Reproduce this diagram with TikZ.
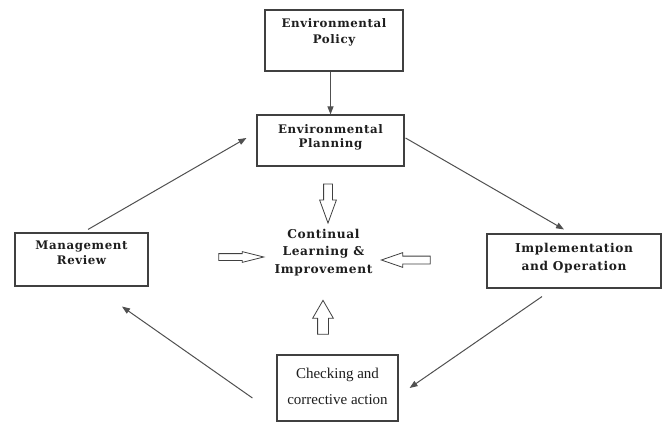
\documentclass[tikz,border=0pt]{standalone}
\usepackage{fontspec}
\usetikzlibrary{arrows.meta,shapes.arrows,calc}
\newfontfamily\lblfont[LetterSpace=5.0]{DejaVu Serif}
\newfontfamily\chkfont{Liberation Serif}
\definecolor{boxline}{HTML}{404040}
\definecolor{linkline}{HTML}{505050}
\definecolor{inktext}{HTML}{1E1E1E}
\tikzset{
  stagebox/.style={draw=boxline, line width=1.1pt, fill=white, inner sep=0pt},
  boldlbl/.style={align=center, text=inktext, inner sep=0pt},
  link/.style={draw=linkline, line width=1pt, -{Triangle[length=8pt,width=6pt]}},
  hollow/.style={single arrow, draw=black!75, line width=0.8pt, fill=white, inner sep=0pt, minimum width=0pt}
}
\begin{document}
\begin{tikzpicture}[x=1pt, y=-1pt]
\useasboundingbox (0,0) rectangle (668,425);

% the five stages of the cycle
\node[stagebox, minimum width=138pt, minimum height=61pt] (pol)  at (334,40.5) {};
\node[stagebox, minimum width=147pt, minimum height=51pt] (plan) at (330.5,140.5) {};
\node[stagebox, minimum width=133pt, minimum height=53pt] (mgmt) at (81.5,259.5) {};
\node[stagebox, minimum width=174pt, minimum height=54pt] (impl) at (574,261) {};
\node[stagebox, minimum width=121pt, minimum height=66pt] (chk)  at (337.5,388) {};

\node[boldlbl, font=\lblfont\bfseries\fontsize{11.8}{16}\selectfont] (poltxt) at (334,32) {Environmental\\Policy};
\node[boldlbl, font=\lblfont\bfseries\fontsize{11.8}{14.5}\selectfont] (plantxt) at (330.5,137.5) {Environmental\\Planning};
\node[boldlbl, font=\lblfont\bfseries\fontsize{11.8}{14.5}\selectfont] (mgmttxt) at (81.5,253) {Management\\Review};
\node[boldlbl, font=\lblfont\bfseries\fontsize{12.2}{18}\selectfont] (impltxt) at (574,258) {Implementation\\and Operation};
\node[align=center, text=inktext, inner sep=0pt, font=\chkfont\fontsize{15}{26}\selectfont] (chktxt) at (337.5,386) {Checking and\\corrective action};

% centre of the cycle
\node[boldlbl, font=\lblfont\bfseries\fontsize{12.2}{17.5}\selectfont] (core) at (323.5,252.5) {Continual\\Learning \&\\Improvement};

% hollow arrows pointing at the centre
\node[hollow, minimum height=39pt, inner sep=4pt, single arrow head extend=4pt, single arrow tip angle=40, rotate=-90] (hdown) at (328,197.5) {};
\node[hollow, minimum height=45pt, inner sep=3pt, single arrow head extend=2pt, single arrow tip angle=28] (hright) at (234.5,257) {};
\node[hollow, minimum height=49pt, inner sep=3.5pt, single arrow head extend=3.5pt, single arrow tip angle=38, rotate=180] (hleft) at (411.5,260) {};
\node[hollow, minimum height=34pt, inner sep=5pt, single arrow head extend=5pt, single arrow tip angle=60, rotate=90] (hup) at (323,322) {};

% cycle connectors
\draw[link] (plan.north |- pol.south) -- (plan.north);
\draw[link] ([xshift=6.5pt,yshift=3pt]mgmt.north) -- ([xshift=-10pt,yshift=2.5pt]plan.west);
\draw[link] ([xshift=1pt,yshift=2.5pt]plan.east) -- ([xshift=-10pt,yshift=4pt]impl.north);
\draw[link] ([xshift=-32pt,yshift=-8pt]impl.south) -- ([xshift=11pt]chk.east);
\draw[link] ([xshift=-24pt,yshift=-10pt]chk.west) -- ([xshift=40.5pt,yshift=-20pt]mgmt.south);
\end{tikzpicture}
\end{document}
